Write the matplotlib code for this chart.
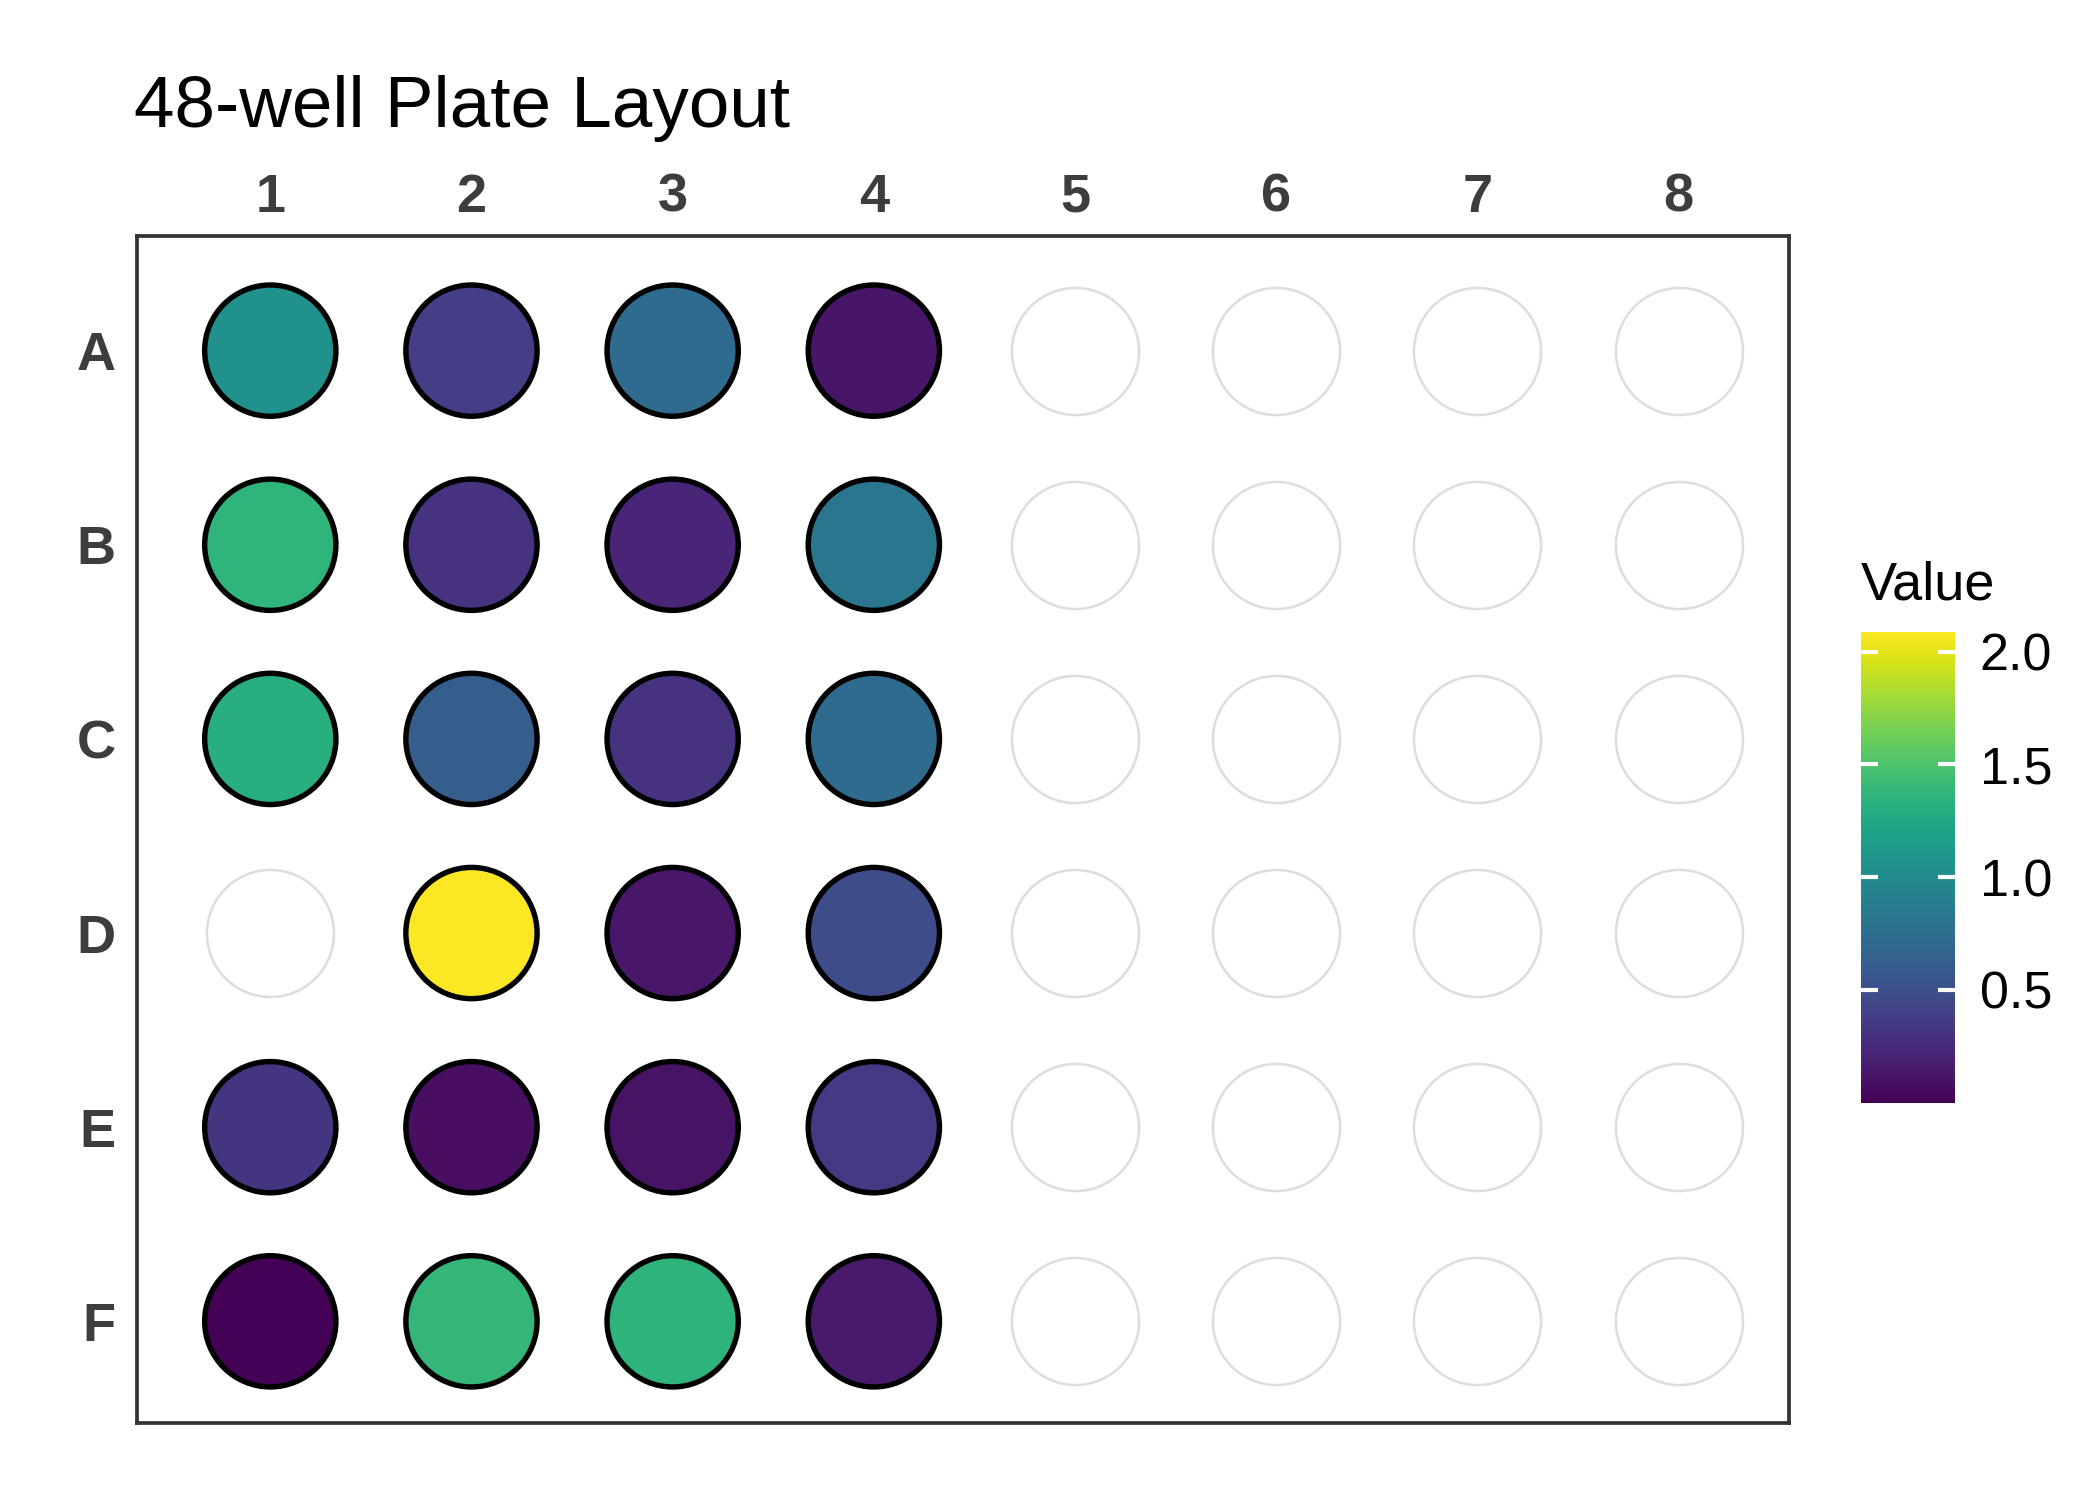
import numpy as np
import matplotlib
matplotlib.use("Agg")
import matplotlib.pyplot as plt
from matplotlib.colors import Normalize

plt.rcParams['font.family'] = ['Liberation Sans', 'DejaVu Sans']

#%% data
row_labels = ['A', 'B', 'C', 'D', 'E', 'F']
col_labels = ['1', '2', '3', '4', '5', '6', '7', '8']

# measured values for columns 1-4 (None = empty well)
col1 = [1.05, 1.36, 1.32, None, 0.32, 0.01]
col2 = [0.38, 0.30, 0.62, 2.08, 0.08, 1.38]
col3 = [0.72, 0.22, 0.30, 0.13, 0.10, 1.35]
col4 = [0.12, 0.82, 0.72, 0.48, 0.35, 0.14]
measured = [col1, col2, col3, col4]

#%%
def main():
    fig = plt.figure(figsize=(7, 5), dpi=300)
    ax = fig.add_axes([0.065, 0.0513, 0.787, 0.7917])

    xs_f, ys_f, vs_f = [], [], []
    xs_e, ys_e = [], []
    for ci in range(len(col_labels)):
        for ri in range(len(row_labels)):
            v = measured[ci][ri] if ci < len(measured) else None
            if v is None:
                xs_e.append(ci + 1)
                ys_e.append(ri + 1)
            else:
                xs_f.append(ci + 1)
                ys_f.append(ri + 1)
                vs_f.append(v)

    norm = Normalize(vmin=0.0, vmax=2.09)
    ax.scatter(xs_e, ys_e, s=30.5**2, facecolor='white',
               edgecolor='#dddddd', linewidth=0.6, zorder=2)
    sc = ax.scatter(xs_f, ys_f, c=vs_f, cmap='viridis', norm=norm,
                    s=31.5**2, edgecolor='black', linewidth=1.3, zorder=3)

    ax.set_xlim(0.335, 8.55)
    ax.set_ylim(6.524, 0.407)
    ax.set_xticks(range(1, 9))
    ax.set_xticklabels(col_labels)
    ax.set_yticks(range(1, 7))
    ax.set_yticklabels(row_labels)
    ax.xaxis.tick_top()
    ax.tick_params(length=0, labelsize=13, labelcolor='#3d3d3d')
    ax.tick_params(axis='x', pad=3)
    ax.tick_params(axis='y', pad=5)
    for lab in ax.get_xticklabels() + ax.get_yticklabels():
        lab.set_fontweight('bold')
    for sp in ax.spines.values():
        sp.set_color('#333333')
        sp.set_linewidth(0.9)

    fig.text(0.064, 0.915, '48-well Plate Layout', fontsize=17.5,
             va='baseline', ha='left')

    # colourbar
    cax = fig.add_axes([0.886, 0.265, 0.0448, 0.314])
    cb = fig.colorbar(sc, cax=cax)
    cb.outline.set_visible(False)
    cb.set_ticks([0.5, 1.0, 1.5, 2.0])
    cb.set_ticklabels(['0.5', '1.0', '1.5', '2.0'])
    cax.tick_params(axis='y', direction='in', length=4, width=1,
                    colors='white', left=True, right=True,
                    labelleft=False, labelright=True,
                    labelcolor='black', labelsize=12.5, pad=6)
    fig.text(0.886, 0.60, 'Value', fontsize=13, va='baseline', ha='left')

    fig.savefig('out.png', dpi=300, facecolor='white')


if __name__ == '__main__':
    main()
